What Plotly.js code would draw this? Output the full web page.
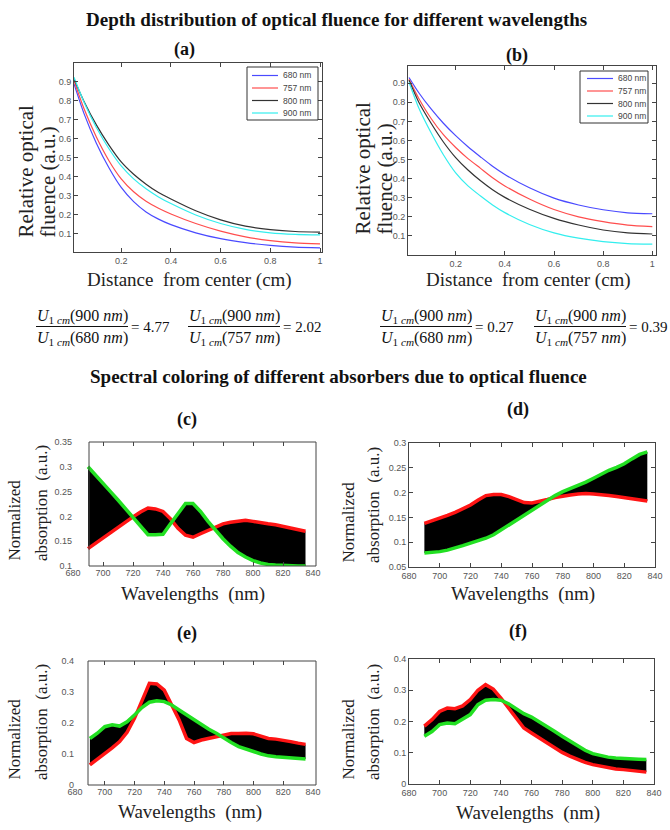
<!DOCTYPE html>
<html>
<head>
<meta charset="utf-8">
<script src="https://cdn.plot.ly/plotly-3.0.1.min.js"></script>
<style>html,body{margin:0;padding:0;background:#fff;}#chart{width:670px;height:830px;}</style>
</head>
<body>
<div id="chart"></div>
<script>
// ---------------- DATA ----------------
const distance = [0.01, 0.05, 0.1, 0.15, 0.2, 0.25, 0.3, 0.35, 0.4, 0.5, 0.6, 0.7, 0.8, 0.9, 1.0];
const seriesNames = ['680 nm', '757 nm', '800 nm', '900 nm'];
// (a) relative optical fluence
const a680 = [0.89, 0.735, 0.578, 0.45, 0.345, 0.27, 0.216, 0.178, 0.149, 0.106, 0.075, 0.054, 0.040, 0.031, 0.027];
const a757 = [0.905, 0.76, 0.61, 0.487, 0.39, 0.322, 0.272, 0.235, 0.205, 0.155, 0.115, 0.085, 0.065, 0.053, 0.048];
const a800 = [0.915, 0.799, 0.674, 0.569, 0.479, 0.414, 0.362, 0.318, 0.284, 0.222, 0.174, 0.141, 0.123, 0.113, 0.110];
const a900 = [0.925, 0.795, 0.66, 0.55, 0.458, 0.39, 0.338, 0.295, 0.26, 0.2, 0.155, 0.124, 0.106, 0.098, 0.095];
// (b) relative optical fluence
const b680 = [0.93, 0.85, 0.765, 0.69, 0.625, 0.567, 0.515, 0.465, 0.422, 0.352, 0.298, 0.262, 0.237, 0.221, 0.216];
const b757 = [0.92, 0.82, 0.715, 0.63, 0.563, 0.505, 0.455, 0.405, 0.362, 0.293, 0.238, 0.2, 0.175, 0.157, 0.149];
const b800 = [0.915, 0.80, 0.69, 0.592, 0.51, 0.445, 0.39, 0.342, 0.302, 0.24, 0.192, 0.157, 0.131, 0.116, 0.11];
const b900 = [0.905, 0.77, 0.64, 0.525, 0.43, 0.362, 0.31, 0.262, 0.222, 0.16, 0.116, 0.088, 0.07, 0.06, 0.057];

const wavelengths = [690,695,700,705,710,715,720,725,730,735,740,745,750,755,760,765,770,775,780,785,790,795,800,805,810,815,820,825,830,835];
const cRed   = [0.135,0.146,0.157,0.168,0.179,0.19,0.199,0.209,0.217,0.215,0.21,0.195,0.176,0.162,0.158,0.165,0.172,0.179,0.185,0.188,0.19,0.192,0.19,0.187,0.185,0.183,0.18,0.177,0.173,0.17];
const cGreen = [0.30,0.284,0.267,0.25,0.233,0.216,0.199,0.18,0.163,0.163,0.164,0.185,0.206,0.226,0.226,0.21,0.19,0.172,0.155,0.14,0.127,0.118,0.111,0.106,0.103,0.102,0.101,0.1,0.1,0.1];
const dRed   = [0.138,0.143,0.148,0.154,0.16,0.167,0.175,0.185,0.194,0.196,0.196,0.192,0.186,0.18,0.179,0.182,0.186,0.19,0.193,0.195,0.197,0.198,0.197,0.196,0.194,0.192,0.19,0.188,0.185,0.183];
const dGreen = [0.078,0.079,0.081,0.084,0.088,0.093,0.098,0.103,0.108,0.115,0.125,0.135,0.145,0.155,0.165,0.175,0.185,0.194,0.202,0.208,0.215,0.221,0.229,0.237,0.245,0.251,0.258,0.268,0.277,0.282];
const eRed   = [0.065,0.083,0.10,0.12,0.14,0.17,0.215,0.27,0.328,0.326,0.306,0.258,0.21,0.15,0.137,0.145,0.15,0.156,0.161,0.166,0.166,0.167,0.165,0.158,0.15,0.148,0.145,0.14,0.135,0.131];
const eGreen = [0.15,0.167,0.188,0.194,0.19,0.204,0.226,0.25,0.267,0.272,0.269,0.258,0.242,0.226,0.212,0.197,0.18,0.167,0.151,0.137,0.124,0.115,0.108,0.10,0.094,0.091,0.089,0.088,0.086,0.084];
const fRed   = [0.185,0.206,0.232,0.243,0.241,0.25,0.27,0.30,0.318,0.304,0.275,0.243,0.211,0.179,0.163,0.147,0.131,0.115,0.101,0.089,0.078,0.069,0.062,0.057,0.051,0.048,0.046,0.043,0.041,0.038];
const fGreen = [0.153,0.168,0.19,0.195,0.193,0.206,0.222,0.254,0.268,0.27,0.268,0.257,0.241,0.225,0.214,0.2,0.185,0.169,0.153,0.137,0.121,0.108,0.097,0.091,0.086,0.083,0.081,0.08,0.079,0.078];

// tick values
const distTicks = [0.2, 0.4, 0.6, 0.8, 1];
const fluenceTicks = [0.1, 0.2, 0.3, 0.4, 0.5, 0.6, 0.7, 0.8, 0.9];
const wlTicks = [680, 700, 720, 740, 760, 780, 800, 820, 840];
const absTicksC = [0.1, 0.15, 0.2, 0.25, 0.3, 0.35];
const absTicksD = [0.05, 0.1, 0.15, 0.2, 0.25, 0.3];
const absTicksEF = [0, 0.1, 0.2, 0.3, 0.4];

// ratios U_1cm(900 nm) / U_1cm(λ)
const ratioDenoms = ['680', '757', '680', '757'];
const ratioValues = ['4.77', '2.02', '0.27', '0.39'];

// ---------------- HELPERS ----------------
const W = 670, H = 830;
const px = v => v / W;
const py = v => 1 - v / H;
const TICKFONT = {family: 'Liberation Sans, Arial, sans-serif', size: 9, color: '#555'};
const SERIF = 'Liberation Serif';

function axis(dom, range, tickvals, opts) {
  return Object.assign({
    domain: dom, range: range, tickmode: 'array', tickvals: tickvals,
    ticktext: tickvals.map(v => String(v)),
    ticks: 'inside', ticklen: 4, tickcolor: '#444', tickwidth: 1,
    showline: true, linecolor: '#444', linewidth: 1, mirror: 'ticks',
    showgrid: false, zeroline: false, tickfont: TICKFONT, fixedrange: true
  }, opts || {});
}

const colors = ['#4a4aff', '#ff4d4d', '#333333', '#33eeee'];
const traces = [];
[a680, a757, a800, a900].forEach((ys, i) => traces.push({
  x: distance, y: ys, xaxis: 'x', yaxis: 'y', mode: 'lines', name: seriesNames[i], showlegend: false,
  line: {color: colors[i], width: 1.2, shape: 'spline', smoothing: 0.7}
}));
[b680, b757, b800, b900].forEach((ys, i) => traces.push({
  x: distance, y: ys, xaxis: 'x2', yaxis: 'y2', mode: 'lines', name: seriesNames[i], showlegend: false,
  line: {color: colors[i], width: 1.2, shape: 'spline', smoothing: 0.7}
}));

const RED = '#ff1414', GREEN = '#22e022';
[[cRed, cGreen, 'x3', 'y3'], [dRed, dGreen, 'x4', 'y4'], [eRed, eGreen, 'x5', 'y5'], [fRed, fGreen, 'x6', 'y6']].forEach(p => {
  const [r, g, xa, ya] = p;
  traces.push({x: wavelengths, y: r, xaxis: xa, yaxis: ya, mode: 'lines', line: {width: 0, color: 'rgba(0,0,0,0)'}, showlegend: false, hoverinfo: 'skip'});
  traces.push({x: wavelengths, y: g, xaxis: xa, yaxis: ya, mode: 'lines', fill: 'tonexty', fillcolor: '#000000', line: {width: 0, color: 'rgba(0,0,0,0)'}, showlegend: false, hoverinfo: 'skip'});
  traces.push({x: wavelengths, y: r, xaxis: xa, yaxis: ya, mode: 'lines', line: {width: 3.5, color: RED}, showlegend: false});
  traces.push({x: wavelengths, y: g, xaxis: xa, yaxis: ya, mode: 'lines', line: {width: 3.5, color: GREEN}, showlegend: false});
});

// ---------------- ANNOTATIONS / SHAPES ----------------
const ann = [];
const shapes = [];
function text(t, x, y, size, o) {
  ann.push(Object.assign({text: t, x: px(x), y: py(y), xref: 'paper', yref: 'paper', showarrow: false,
    xanchor: 'center', yanchor: 'middle', font: {family: SERIF, size: size, color: '#111'}}, o || {}));
}
text('<b>Depth distribution of optical fluence for different wavelengths</b>', 336, 20, 19);
text('<b>Spectral coloring of different absorbers due to optical fluence</b>', 338, 376, 19);
text('<b>(a)</b>', 184, 49, 18);
text('<b>(b)</b>', 517, 55, 18);
text('<b>(c)</b>', 187, 420, 18);
text('<b>(d)</b>', 518, 410, 18);
text('<b>(e)</b>', 187, 633, 18);
text('<b>(f)</b>', 518, 631, 18);

// axis titles
text('Distance  from center (cm)', 189, 280, 19, {font: {family: SERIF, size: 19, color: '#222'}});
text('Distance  from center (cm)', 528, 280, 19, {font: {family: SERIF, size: 19, color: '#222'}});
[[193, 594], [523, 594], [190, 812], [528, 813]].forEach(p =>
  text('Wavelengths  (nm)', p[0], p[1], 19, {font: {family: SERIF, size: 19, color: '#222'}}));
function ytitle(t, x, ybottom, size) {
  text(t, x, ybottom, size, {textangle: -90, yanchor: 'bottom', font: {family: SERIF, size: size, color: '#222'}});
}
ytitle('Relative optical', 25, 240, 21); ytitle('fluence (a.u.)', 47, 240, 21);
ytitle('Relative optical', 362, 237, 21); ytitle('fluence (a.u.)', 384, 237, 21);
ytitle('Normalized', 14, 563, 17); ytitle('absorption  (a.u.)', 41, 563, 17);
ytitle('Normalized', 348, 565, 17); ytitle('absorption  (a.u.)', 373, 565, 17);
ytitle('Normalized', 14, 782, 17); ytitle('absorption  (a.u.)', 41, 782, 17);
ytitle('Normalized', 348, 782, 17); ytitle('absorption  (a.u.)', 373, 782, 17);

// ratio equations
const eqX = [36, 188, 380, 534];
const EQW = 92;
eqX.forEach((x0, i) => {
  const cx = x0 + EQW / 2;
  text('<i>U</i><sub>1 <i>cm</i></sub>(900 <i>nm</i>)', cx, 316, 16, {font: {family: SERIF, size: 16, color: '#111'}});
  text('<i>U</i><sub>1 <i>cm</i></sub>(' + ratioDenoms[i] + ' <i>nm</i>)', cx, 338, 16, {font: {family: SERIF, size: 16, color: '#111'}});
  text('= ' + ratioValues[i], x0 + EQW + 1, 327, 15, {xanchor: 'left', font: {family: SERIF, size: 15, color: '#111'}});
  shapes.push({type: 'line', xref: 'paper', yref: 'paper', x0: px(x0), x1: px(x0 + EQW), y0: py(326.5), y1: py(326.5), line: {color: '#111', width: 1}});
});
// frames for (c) and (e), whose boxes start at 690 nm
shapes.push({type: 'rect', xref: 'paper', yref: 'paper', x0: px(89), x1: px(316), y0: py(566), y1: py(442), line: {color: '#444', width: 1}});
shapes.push({type: 'rect', xref: 'paper', yref: 'paper', x0: px(88), x1: px(316), y0: py(785), y1: py(661), line: {color: '#444', width: 1}});

// compact MATLAB-style legends
function legendBox(bx0, by0, bx1, by1, firstY, step, lineX0, lineX1) {
  shapes.push({type: 'rect', xref: 'paper', yref: 'paper', x0: px(bx0), x1: px(bx1), y0: py(by1), y1: py(by0),
    fillcolor: 'white', line: {color: '#333', width: 1}, layer: 'above'});
  seriesNames.forEach((nm, i) => {
    const yy = firstY + i * step;
    shapes.push({type: 'line', xref: 'paper', yref: 'paper', x0: px(lineX0), x1: px(lineX1), y0: py(yy), y1: py(yy),
      line: {color: colors[i], width: 1.2}, layer: 'above'});
    text(nm, lineX1 + 3, yy, 8.5, {xanchor: 'left', font: {family: 'Liberation Sans, Arial, sans-serif', size: 8.5, color: '#444'}});
  });
}
legendBox(247, 67, 318, 120, 75.5, 12.5, 252, 278);
legendBox(580, 71, 648, 123, 78.5, 12.5, 587, 613);

const layout = {
  width: W, height: H, margin: {l: 0, r: 0, t: 0, b: 0},
  paper_bgcolor: 'white', plot_bgcolor: 'white', showlegend: false,
  xaxis:  axis([px(74), px(322)], [0.01, 1.008], distTicks, {anchor: 'y'}),
  yaxis:  axis([py(252), py(63)], [0.005, 1.0], fluenceTicks, {anchor: 'x'}),
  xaxis2: axis([px(408), px(656)], [0.006, 1.015], distTicks, {anchor: 'y2'}),
  yaxis2: axis([py(255), py(66)], [0.0, 0.99], fluenceTicks, {anchor: 'x2'}),
  xaxis3: axis([px(73), px(313)], [680, 840], wlTicks, {anchor: 'y3', showline: false}),
  yaxis3: axis([py(566), py(442)], [0.1, 0.35], absTicksC, {anchor: 'x3', showline: false, ticks: ''}),
  xaxis4: axis([px(409), px(655)], [680, 840], wlTicks, {anchor: 'y4'}),
  yaxis4: axis([py(567), py(443)], [0.05, 0.3], absTicksD, {anchor: 'x4'}),
  xaxis5: axis([px(75), px(313)], [680, 840], wlTicks, {anchor: 'y5', showline: false}),
  yaxis5: axis([py(785), py(661)], [0, 0.4], absTicksEF, {anchor: 'x5', showline: false, ticks: ''}),
  xaxis6: axis([px(409), px(654)], [680, 840], wlTicks, {anchor: 'y6'}),
  yaxis6: axis([py(784), py(659)], [0, 0.4], absTicksEF, {anchor: 'x6'}),
  annotations: ann, shapes: shapes
};

Plotly.newPlot('chart', traces, layout, {staticPlot: true, displayModeBar: false});
</script>
</body>
</html>
